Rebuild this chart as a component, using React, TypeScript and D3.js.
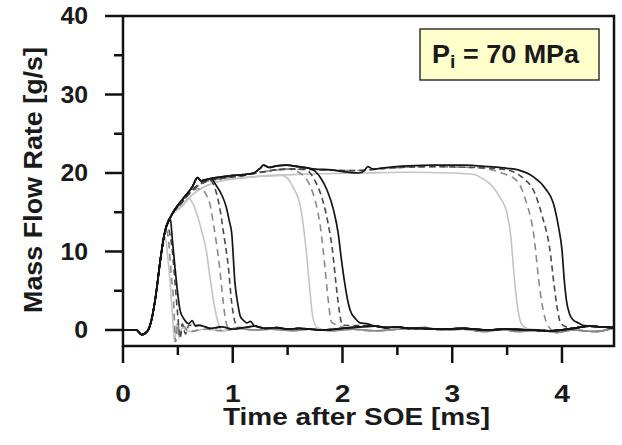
import React from "react";
import * as d3 from "d3";

type P = [number, number];

const X_MAJOR = [0, 1, 2, 3, 4];
const X_MINOR = [0.5, 1.5, 2.5, 3.5];
const Y_MAJOR = [0, 10, 20, 30, 40];
const Y_MINOR = [5, 15, 25, 35];
const X_TITLE = "Time after SOE [ms]";
const Y_TITLE = "Mass Flow Rate [g/s]";

// common opening of the needle (rise)
const RISE: P[] = [[0, 0], [0.12, 0], [0.17, -0.6], [0.22, -0.2], [0.26, 1.3], [0.3, 4.5], [0.34, 8.9], [0.38, 12.4], [0.43, 14.3]];

// plateaus
const PLATEAU_DARK: P[] = [[0.54, 16.6], [0.63, 18.2], [0.68, 19.4], [0.71, 19.0], [0.8, 19.3], [0.9, 19.5], [1.0, 19.7], [1.1, 19.8], [1.19, 20.0], [1.25, 20.6], [1.28, 21.0], [1.33, 20.7], [1.4, 20.9], [1.49, 21.0], [1.6, 20.8], [1.75, 20.5], [1.9, 20.4], [2.05, 20.1], [2.15, 20.0], [2.2, 20.3], [2.23, 20.8], [2.28, 20.5], [2.4, 20.7], [2.6, 20.9], [2.83, 21.0], [3.1, 21.0], [3.34, 20.8], [3.5, 20.6]];
const PLATEAU_MID: P[] = [[0.54, 16.3], [0.63, 17.8], [0.75, 18.9], [0.9, 19.3], [1.1, 19.7], [1.3, 20.2], [1.5, 20.5], [1.8, 20.4], [2.1, 20.3], [2.4, 20.6], [2.8, 20.8], [3.2, 20.7], [3.5, 20.4]];
const PLATEAU_LIGHT: P[] = [[0.54, 15.8], [0.63, 17.2], [0.75, 18.3], [0.9, 19.0], [1.1, 19.4], [1.4, 19.7], [1.8, 19.9], [2.2, 20.0], [2.6, 20.1], [3.0, 20.0], [3.2, 19.8]];

// residual baseline after closing
const TAIL_A: P[] = [[0.6, 0.3], [0.7, 0.6], [0.8, 0.2], [0.9, 0.4], [1.0, 0.1], [1.1, 0.3], [1.2, 0.5], [1.3, 0.2], [1.4, 0.3], [1.5, 0.1], [1.6, 0.2], [1.8, 0.0], [2.0, 0.2], [2.3, 0.5], [2.4, 0.3], [2.5, 0.4], [2.6, 0.2], [2.7, 0.2], [2.9, 0.1], [3.1, 0.2], [3.3, 0.0], [3.5, 0.1], [3.7, 0.0], [3.9, -0.1], [4.1, 0.2], [4.25, 0.5], [4.35, 0.4], [4.48, 0.3]];
const TAIL_B: P[] = [[0.6, -0.2], [0.75, 0.1], [0.9, -0.1], [1.05, 0.2], [1.2, 0.0], [1.35, 0.1], [1.55, -0.1], [1.7, 0.1], [1.9, -0.1], [2.1, 0.1], [2.3, -0.1], [2.5, 0.1], [2.75, 0.3], [2.9, 0.0], [3.1, 0.1], [3.3, -0.2], [3.45, 0.1], [3.6, -0.2], [3.8, 0.0], [3.95, -0.3], [4.1, 0.0], [4.3, -0.2], [4.48, 0.3]];

// closing flanks: 0.5 ms group
const FALL_05_LIGHT: P[] = [[0.37, 12.0], [0.39, 11.5], [0.41, 9], [0.43, 6], [0.45, 2], [0.47, -1.5], [0.49, 0.8], [0.51, -1], [0.54, 0.3]];
const FALL_05_GRAY: P[] = [[0.39, 12.8], [0.41, 12], [0.44, 7], [0.46, 4], [0.48, -1.5], [0.5, 1.0], [0.52, -0.8], [0.55, 0.5]];
const FALL_05_DARK: P[] = [[0.4, 13.3], [0.43, 12], [0.45, 10], [0.48, 5], [0.5, 1.7], [0.52, -1], [0.54, 0.8], [0.57, -0.5], [0.6, 0.6]];
const FALL_05_BLACK: P[] = [[0.43, 14.3], [0.45, 11.5], [0.47, 8.5], [0.5, 4.5], [0.52, 2.5], [0.56, 1.3], [0.6, 0.8], [0.63, 1.2], [0.66, 0.5]];
// 1 ms group
const FALL_1_LIGHT: P[] = [[0.6, 16.8], [0.64, 16], [0.7, 13.5], [0.76, 10], [0.8, 6], [0.84, 2.5], [0.88, 0.4]];
const FALL_1_GRAY: P[] = [[0.7, 18.0], [0.78, 16.6], [0.83, 13], [0.88, 8], [0.91, 4], [0.93, 1.7], [0.96, 0.3]];
const FALL_1_DARK: P[] = [[0.8, 19.0], [0.85, 17.5], [0.88, 15.7], [0.92, 12], [0.96, 8], [0.99, 3.5], [1.02, 1.0], [1.04, 0.3]];
const FALL_1_BLACK: P[] = [[0.8, 19.3], [0.85, 18.4], [0.9, 17.2], [0.94, 15.7], [0.97, 13.8], [0.99, 12.4], [1.02, 6], [1.05, 3], [1.07, 1.7], [1.1, 1.2], [1.13, 0.9], [1.16, 1.1], [1.2, 0.5]];
// 2 ms group
const FALL_2_LIGHT: P[] = [[1.45, 19.7], [1.55, 18.2], [1.62, 15.5], [1.67, 10], [1.7, 5.5], [1.73, 1.6], [1.77, 0.3]];
const FALL_2_GRAY: P[] = [[1.6, 20.1], [1.7, 18.5], [1.76, 16], [1.8, 13], [1.84, 8], [1.87, 3.8], [1.9, 1.0]];
const FALL_2_DARK: P[] = [[1.65, 20.5], [1.75, 19.0], [1.82, 16.5], [1.87, 13.5], [1.91, 10], [1.94, 6], [1.97, 2.5], [2.0, 0.6]];
const FALL_2_BLACK: P[] = [[1.7, 20.6], [1.8, 19.4], [1.86, 17.8], [1.92, 15.2], [1.96, 12.4], [1.99, 9], [2.02, 6], [2.05, 3.6], [2.07, 2.5], [2.12, 1.4], [2.16, 0.9], [2.22, 0.8]];
// 4 ms group
const FALL_4_LIGHT: P[] = [[3.25, 19.5], [3.43, 17], [3.5, 14.8], [3.53, 12.4], [3.57, 6], [3.6, 2.5], [3.63, 0.8], [3.68, 0.2]];
const FALL_4_GRAY: P[] = [[3.45, 20.0], [3.59, 19.0], [3.67, 16.5], [3.74, 12.4], [3.8, 5], [3.84, 1.8], [3.88, 0.4]];
const FALL_4_DARK: P[] = [[3.55, 20.2], [3.65, 19.3], [3.74, 17.8], [3.82, 14.5], [3.89, 10.2], [3.93, 5.5], [3.96, 2.5], [3.99, 0.8]];
const FALL_4_BLACK: P[] = [[3.6, 20.4], [3.74, 19.5], [3.85, 18.0], [3.92, 16.2], [3.97, 13], [4.0, 10.2], [4.02, 6.5], [4.04, 3.8], [4.07, 2.0], [4.1, 1.3], [4.15, 0.9], [4.19, 0.6]];

const STYLES: Record<string, { stroke: string; dash?: string; width: number }> = {
  light: { stroke: "#c4c4c4", width: 1.6 },
  gray: { stroke: "#8a8a8a", dash: "7,5", width: 1.6 },
  dark: { stroke: "#4a4a4a", dash: "6,4", width: 1.6 },
  black: { stroke: "#151515", width: 1.7 },
};

const TRACES: { style: string; fall: P[]; plateau: P[]; tail: P[] }[] = [
  { style: "light", fall: FALL_05_LIGHT, plateau: PLATEAU_LIGHT, tail: TAIL_B },
  { style: "light", fall: FALL_1_LIGHT, plateau: PLATEAU_LIGHT, tail: TAIL_B },
  { style: "light", fall: FALL_2_LIGHT, plateau: PLATEAU_LIGHT, tail: TAIL_B },
  { style: "light", fall: FALL_4_LIGHT, plateau: PLATEAU_LIGHT, tail: TAIL_B },
  { style: "gray", fall: FALL_05_GRAY, plateau: PLATEAU_MID, tail: TAIL_B },
  { style: "gray", fall: FALL_1_GRAY, plateau: PLATEAU_MID, tail: TAIL_B },
  { style: "gray", fall: FALL_2_GRAY, plateau: PLATEAU_MID, tail: TAIL_B },
  { style: "gray", fall: FALL_4_GRAY, plateau: PLATEAU_MID, tail: TAIL_B },
  { style: "dark", fall: FALL_05_DARK, plateau: PLATEAU_MID, tail: TAIL_A },
  { style: "dark", fall: FALL_1_DARK, plateau: PLATEAU_MID, tail: TAIL_A },
  { style: "dark", fall: FALL_2_DARK, plateau: PLATEAU_MID, tail: TAIL_A },
  { style: "dark", fall: FALL_4_DARK, plateau: PLATEAU_MID, tail: TAIL_A },
  { style: "black", fall: FALL_05_BLACK, plateau: PLATEAU_DARK, tail: TAIL_A },
  { style: "black", fall: FALL_1_BLACK, plateau: PLATEAU_DARK, tail: TAIL_A },
  { style: "black", fall: FALL_2_BLACK, plateau: PLATEAU_DARK, tail: TAIL_A },
  { style: "black", fall: FALL_4_BLACK, plateau: PLATEAU_DARK, tail: TAIL_A },
];

function assemble(fall: P[], plateau: P[], tail: P[]): P[] {
  const t0 = fall[0][0];
  const t1 = fall[fall.length - 1][0];
  const riseEnd = RISE[RISE.length - 1][0];
  return [
    ...RISE.filter((p) => p[0] < t0),
    ...plateau.filter((p) => p[0] > riseEnd && p[0] < t0),
    ...fall,
    ...tail.filter((p) => p[0] > t1),
  ];
}

const W = 622, H = 445;
const L = 123, R = 614, T = 16, B = 346;
const FONT = "'Liberation Sans', Arial, sans-serif";

export default function App() {
  const x = d3.scaleLinear().domain([0, 4.474]).range([L, R]);
  const y = d3.scaleLinear().domain([-2.04, 40]).range([B, T]);
  const line = d3
    .line<P>()
    .x((d) => x(d[0]))
    .y((d) => y(d[1]))
    .curve(d3.curveMonotoneX);

  return (
    <svg width={W} height={H} style={{ position: "absolute", left: 0, top: 0, background: "#fff" }} fontFamily={FONT}>
      <defs>
        <clipPath id="plotclip">
          <rect x={L} y={T} width={R - L} height={B - T} />
        </clipPath>
      </defs>
      <rect x={0} y={0} width={W} height={H} fill="#fff" />

      <g clipPath="url(#plotclip)">
        {TRACES.map((tr, i) => {
          const s = STYLES[tr.style];
          return (
            <path
              key={i}
              d={line(assemble(tr.fall, tr.plateau, tr.tail)) || ""}
              fill="none"
              stroke={s.stroke}
              strokeWidth={s.width}
              strokeDasharray={s.dash}
              strokeLinejoin="round"
            />
          );
        })}
      </g>

      {/* frame */}
      <rect x={L} y={T} width={R - L} height={B - T} fill="none" stroke="#111" strokeWidth={2.5} />

      {/* y ticks */}
      {Y_MAJOR.map((v) => (
        <g key={"ym" + v}>
          <line x1={L - 18} x2={L} y1={y(v)} y2={y(v)} stroke="#111" strokeWidth={2.5} />
          <text
            x={88}
            y={y(v)}
            dy="0.36em"
            textAnchor="end"
            fontSize={23}
            fontWeight="bold"
            fill="#1a1a1a"
            transform={`translate(88,0) scale(1.08,1) translate(-88,0)`}
          >
            {v}
          </text>
        </g>
      ))}
      {Y_MINOR.map((v) => (
        <line key={"yn" + v} x1={L - 9} x2={L} y1={y(v)} y2={y(v)} stroke="#111" strokeWidth={2.5} />
      ))}

      {/* x ticks */}
      {X_MAJOR.map((v) => (
        <g key={"xm" + v}>
          <line x1={x(v)} x2={x(v)} y1={B} y2={B + 17} stroke="#111" strokeWidth={2.5} />
          <text
            x={x(v)}
            y={402}
            textAnchor="middle"
            fontSize={23.5}
            fontWeight="bold"
            fill="#1a1a1a"
            transform={`translate(${x(v)},0) scale(1.2,1) translate(${-x(v)},0)`}
          >
            {v}
          </text>
        </g>
      ))}
      {X_MINOR.map((v) => (
        <line key={"xn" + v} x1={x(v)} x2={x(v)} y1={B} y2={B + 9} stroke="#111" strokeWidth={2.5} />
      ))}

      {/* axis titles */}
      <text
        x={356.5}
        y={425}
        textAnchor="middle"
        fontSize={23.5}
        fontWeight="bold"
        fill="#1a1a1a"
        textLength={267}
        lengthAdjust="spacingAndGlyphs"
      >
        {X_TITLE}
      </text>
      <text
        transform="translate(42,180) rotate(-90)"
        textAnchor="middle"
        fontSize={26}
        fontWeight="bold"
        fill="#1a1a1a"
        textLength={266}
        lengthAdjust="spacingAndGlyphs"
      >
        {Y_TITLE}
      </text>

      {/* annotation box */}
      <rect x={420} y={29} width={179} height={51} fill="#ffffcc" stroke="#333" strokeWidth={1.5} />
      <text x={432} y={63} fontSize={25} fontWeight="bold" fill="#1a1a1a" transform="translate(432,0) scale(1.08,1) translate(-432,0)">
        P
        <tspan fontSize={18} dy={5}>i</tspan>
        <tspan dy={-5}> = 70 MPa</tspan>
      </text>
    </svg>
  );
}
